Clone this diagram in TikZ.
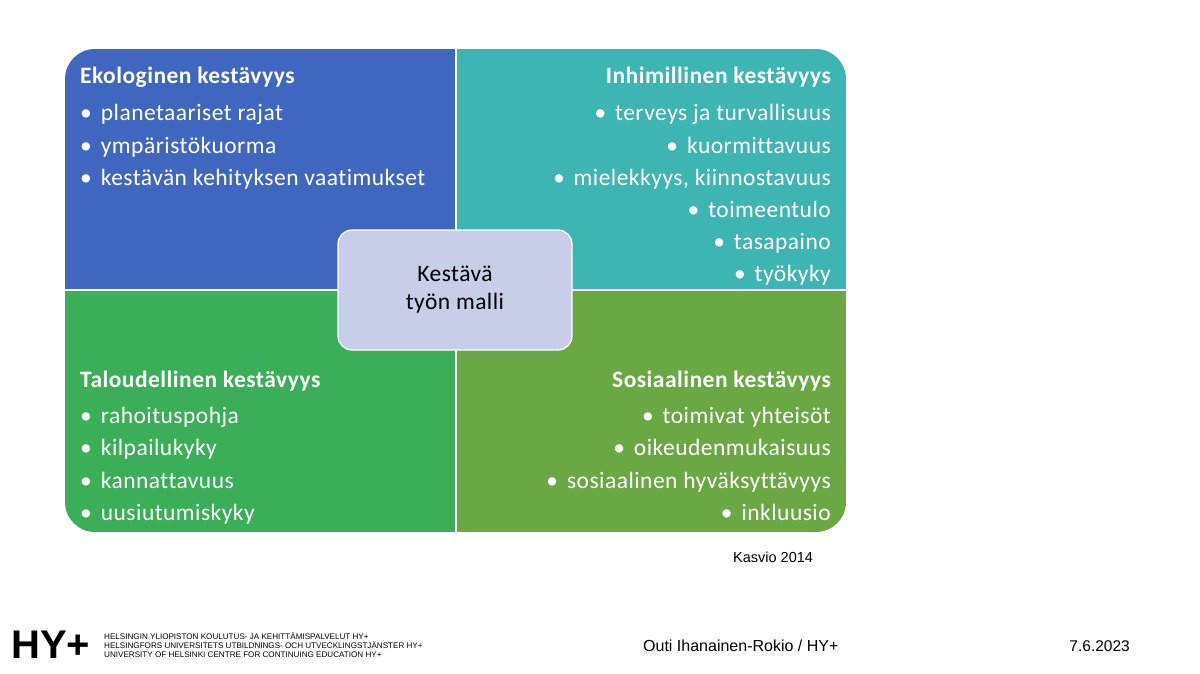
\documentclass[tikz,border=0pt]{standalone}
\usepackage{fontspec}
\setmainfont{Carlito}[LetterSpace=2,Ligatures=NoCommon]
\newfontfamily\hel{Liberation Sans}
\definecolor{qblue}{HTML}{3F67C0}
\definecolor{qteal}{HTML}{3DB5B3}
\definecolor{qgreen}{HTML}{3AAF58}
\definecolor{qolive}{HTML}{6AA843}
\definecolor{qcenter}{HTML}{C8CEE8}
\begin{document}
\begin{tikzpicture}[x=1pt,y=-1pt,
  ttl/.style={text=white,font=\fontsize{23.5}{24}\selectfont\bfseries,inner sep=0},
  itm/.style={text=white,font=\fontsize{23.5}{24}\selectfont,inner sep=0},
  foot/.style={font=\hel\fontsize{15.5}{18}\selectfont,inner sep=0}]
\useasboundingbox (0,0) rectangle (1200,673);
\fill[white] (0,0) rectangle (1200,673);
\begin{scope}
\clip[rounded corners=30] (65,49) rectangle (846,532);
\fill[qblue] (65,49) rectangle (456,290);
\fill[qteal] (456,49) rectangle (846,290);
\fill[qgreen] (65,290) rectangle (456,532);
\fill[qolive] (456,290) rectangle (846,532);
\end{scope}
\draw[white,line width=1.2] (456,49) -- (456,532) (65,290) -- (846,290);
\node[fill=qcenter,draw=white,line width=1.2,rounded corners=14,minimum width=234,minimum height=120,align=center,font=\fontsize{23.5}{28}\selectfont] (c) at (455,290) {Kestävä\\työn malli};
% top-left
\node[ttl,anchor=base west] (t1) at (80,83) {Ekologinen kestävyys};
\node[itm,anchor=base west] (a1) at (80,120) {•\hspace{9pt}planetaariset rajat};
\node[itm,anchor=base west] (a2) at (80,153) {•\hspace{9pt}ympäristökuorma};
\node[itm,anchor=base west] (a3) at (80,185) {•\hspace{9pt}kestävän kehityksen vaatimukset};
% top-right
\node[ttl,anchor=base east] (t2) at (831,83) {Inhimillinen kestävyys};
\node[itm,anchor=base east] (b1) at (831,120) {•\hspace{9pt}terveys ja turvallisuus};
\node[itm,anchor=base east] (b2) at (831,153) {•\hspace{9pt}kuormittavuus};
\node[itm,anchor=base east] (b3) at (831,185) {•\hspace{9pt}mielekkyys, kiinnostavuus};
\node[itm,anchor=base east] (b4) at (831,217) {•\hspace{9pt}toimeentulo};
\node[itm,anchor=base east] (b5) at (831,249) {•\hspace{9pt}tasapaino};
\node[itm,anchor=base east] (b6) at (831,281) {•\hspace{9pt}työkyky};
% bottom-left
\node[ttl,anchor=base west] (t3) at (80,387) {Taloudellinen kestävyys};
\node[itm,anchor=base west] (d1) at (80,423) {•\hspace{9pt}rahoituspohja};
\node[itm,anchor=base west] (d2) at (80,455) {•\hspace{9pt}kilpailukyky};
\node[itm,anchor=base west] (d3) at (80,488) {•\hspace{9pt}kannattavuus};
\node[itm,anchor=base west] (d4) at (80,520) {•\hspace{9pt}uusiutumiskyky};
% bottom-right
\node[ttl,anchor=base east] (t4) at (831,387) {Sosiaalinen kestävyys};
\node[itm,anchor=base east] (e1) at (831,423) {•\hspace{9pt}toimivat yhteisöt};
\node[itm,anchor=base east] (e2) at (831,455) {•\hspace{9pt}oikeudenmukaisuus};
\node[itm,anchor=base east] (e3) at (831,488) {•\hspace{9pt}sosiaalinen hyväksyttävyys};
\node[itm,anchor=base east] (e4) at (831,520) {•\hspace{9pt}inkluusio};
\node[anchor=base west,inner sep=0,font=\hel\fontsize{14.5}{16}\selectfont] (k) at (733,562) {Kasvio 2014};
% footer
\node[anchor=west,inner sep=0,font=\hel\bfseries\fontsize{40}{40}\selectfont] (logo) at (11,645) {HY+};
\node[anchor=west,inner sep=0,align=left,font=\hel\fontsize{8.1}{9}\selectfont] (ltxt) at (104,645) {HELSINGIN YLIOPISTON KOULUTUS- JA KEHITTÄMISPALVELUT HY+\\HELSINGFORS UNIVERSITETS UTBILDNINGS- OCH UTVECKLINGSTJÄNSTER HY+\\UNIVERSITY OF HELSINKI CENTRE FOR CONTINUING EDUCATION HY+};
\node[foot,anchor=base west,font=\hel\fontsize{16}{18}\selectfont] (au) at (643,651) {Outi Ihanainen-Rokio / HY+};
\node[foot,anchor=base east] (dt) at (1130,651) {7.6.2023};
\end{tikzpicture}
\end{document}
